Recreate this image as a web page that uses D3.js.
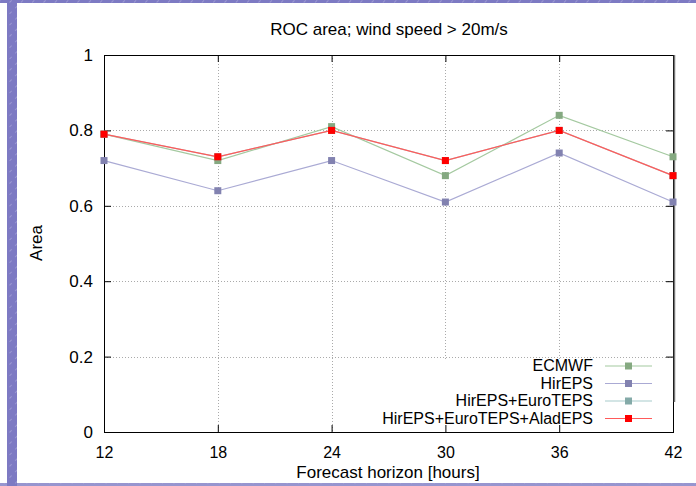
<!DOCTYPE html>
<html><head><meta charset="utf-8">
<script src="https://cdn.jsdelivr.net/npm/d3@7"></script>
<style>body{margin:0;background:#fff}svg{display:block}text{font-family:"Liberation Sans",Arial,sans-serif;fill:#000}</style>
</head><body>
<script>
const hours = [12, 18, 24, 30, 36, 42];
const ecmwf = [0.79, 0.72, 0.81, 0.68, 0.84, 0.73];
const hireps = [0.72, 0.64, 0.72, 0.61, 0.74, 0.61];
const hirepsEuro = [0.79, 0.73, 0.80, 0.72, 0.80, 0.68];
const hirepsEuroAlad = [0.79, 0.73, 0.80, 0.72, 0.80, 0.68];
const seriesNames = ["ECMWF", "HirEPS", "HirEPS+EuroTEPS", "HirEPS+EuroTEPS+AladEPS"];
const yTicks = [0, 0.2, 0.4, 0.6, 0.8, 1];
const yTickLabels = ["0", "0.2", "0.4", "0.6", "0.8", "1"];

const W = 696, H = 486;
const m = {l: 104, r: 673, t: 55, b: 432};
const FS = "17px", FT = "16px";
const svg = d3.select("body").append("svg").attr("width", W).attr("height", H);

// slide background decorations
const defs = svg.append("defs");
const pat = defs.append("pattern").attr("id", "stripe").attr("patternUnits", "userSpaceOnUse")
  .attr("width", 8).attr("height", 8).attr("patternTransform", "rotate(45)");
pat.append("rect").attr("width", 8).attr("height", 8).attr("fill", "#7d7ac3");
pat.append("line").attr("x1", 0).attr("y1", 0).attr("x2", 0).attr("y2", 3).attr("stroke", "#b8b6e2").attr("stroke-width", 1);
svg.append("rect").attr("x", 7).attr("y", 0).attr("width", 10).attr("height", H).attr("fill", "url(#stripe)");
svg.append("rect").attr("x", 0).attr("y", 0).attr("width", W).attr("height", 3).attr("fill", "url(#stripe)");
svg.append("rect").attr("x", 0).attr("y", 483).attr("width", W).attr("height", 3).attr("fill", "url(#stripe)").attr("opacity", 0.8);

const x = d3.scaleLinear().domain([12, 42]).range([m.l, m.r]);
const y = d3.scaleLinear().domain([0, 1]).range([m.b, m.t]);

// grid
const grid = svg.append("g").attr("stroke", "#aaa").attr("stroke-dasharray", "1,2").attr("stroke-width", 1);
hours.slice(1, -1).forEach(h => grid.append("line").attr("x1", Math.round(x(h)) + 0.5).attr("x2", Math.round(x(h)) + 0.5).attr("y1", m.t).attr("y2", m.b));
yTicks.slice(1, -1).forEach(v => grid.append("line").attr("y1", Math.round(y(v)) + 0.5).attr("y2", Math.round(y(v)) + 0.5).attr("x1", m.l).attr("x2", m.r));

// legend background masks grid
svg.append("rect").attr("x", 366).attr("y", 359).attr("width", 300).attr("height", 72).attr("fill", "#fff");

// axes with inside ticks
const axB = svg.append("g").attr("transform", `translate(0,${m.b})`)
  .call(d3.axisBottom(x).tickValues(hours).tickSize(-7).tickPadding(15).tickFormat(d3.format("d")));
const axT = svg.append("g").attr("transform", `translate(0,${m.t})`)
  .call(d3.axisTop(x).tickValues(hours).tickSize(-7).tickFormat(""));
const axL = svg.append("g").attr("transform", `translate(${m.l},0)`)
  .call(d3.axisLeft(y).tickValues(yTicks).tickSize(-7).tickPadding(11).tickFormat((d, i) => yTickLabels[i]));
const axR = svg.append("g").attr("transform", `translate(${m.r},0)`)
  .call(d3.axisRight(y).tickValues(yTicks).tickSize(-7).tickFormat(""));
[axB, axT, axL, axR].forEach(a => {
  a.select(".domain").remove();
  a.selectAll("line").attr("stroke", "#000");
  a.selectAll("text").style("font-size", FS).attr("font-family", "Liberation Sans, Arial, sans-serif");
});
axB.selectAll("text").style("font-size", FT);
svg.append("rect").attr("x", m.l + 0.5).attr("y", m.t + 0.5).attr("width", m.r - m.l).attr("height", m.b - m.t)
  .attr("fill", "none").attr("stroke", "#000").attr("stroke-width", 1);
svg.append("line").attr("x1", m.r + 1.5).attr("x2", m.r + 1.5).attr("y1", m.t).attr("y2", m.b - 30).attr("stroke", "#777").attr("stroke-width", 1.5);

// series
const series = [
  {name: seriesNames[0], vals: ecmwf, line: "#a4c9a0", mark: "#85a981"},
  {name: seriesNames[1], vals: hireps, line: "#aaaad4", mark: "#8282b0"},
  {name: seriesNames[2], vals: hirepsEuro, line: "#a8cccc", mark: "#84aaa8"},
  {name: seriesNames[3], vals: hirepsEuroAlad, line: "#ff5a5a", mark: "#ff0000"}
];
const lineGen = d3.line().x((d, i) => x(hours[i])).y(d => y(d));
series.forEach(s => {
  svg.append("path").datum(s.vals).attr("d", lineGen).attr("fill", "none").attr("stroke", s.line).attr("stroke-width", 1.2);
  svg.selectAll(null).data(s.vals).enter().append("rect")
    .attr("x", (d, i) => x(hours[i]) - 3.5).attr("y", d => y(d) - 3.5)
    .attr("width", 7).attr("height", 7).attr("fill", s.mark);
});

// legend
const legY = [365.5, 383, 400.5, 418];
series.forEach((s, i) => {
  const g = svg.append("g").attr("transform", `translate(0,${legY[i]})`);
  g.append("text").attr("x", 593).attr("y", 0).attr("dy", "0.35em").attr("text-anchor", "end").style("font-size", FT).text(s.name);
  g.append("line").attr("x1", 605).attr("x2", 652).attr("y1", 0.5).attr("y2", 0.5).attr("stroke", s.line).attr("stroke-width", 1.2);
  g.append("rect").attr("x", 625).attr("y", -3).attr("width", 7).attr("height", 7).attr("fill", s.mark);
});

// titles
svg.append("text").attr("x", 389).attr("y", 35).attr("text-anchor", "middle").style("font-size", FS).text("ROC area; wind speed > 20m/s");
svg.append("text").attr("x", 388).attr("y", 478).attr("text-anchor", "middle").style("font-size", FS).text("Forecast horizon [hours]");
svg.append("text").attr("transform", "translate(42,243) rotate(-90)").attr("text-anchor", "middle").style("font-size", FS).text("Area");
</script>
</body></html>
